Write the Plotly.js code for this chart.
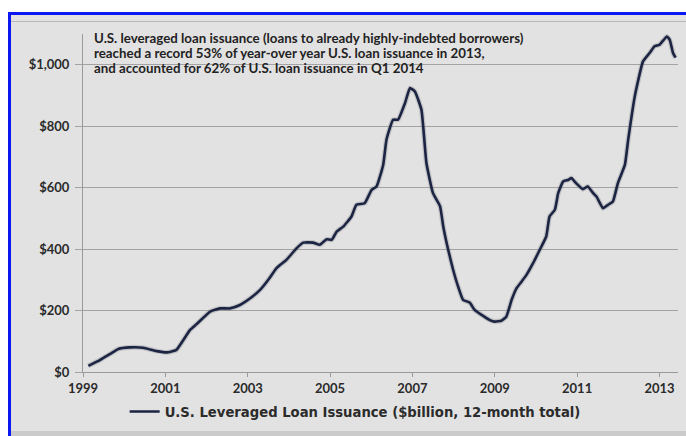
<!DOCTYPE html>
<html>
<head>
<meta charset="utf-8">
<script src="https://cdn.plot.ly/plotly-3.0.1.min.js"></script>
<style>
  html, body { margin:0; padding:0; background:#ffffff; width:686px; height:436px; overflow:hidden; }
  #frame { position:absolute; left:8px; top:12px; width:678px; height:424px; box-sizing:border-box;
           border-left:3px solid #0c18f2; border-top:3px solid #0c18f2; background:#e2e2e2; }
  #topline { position:absolute; left:11px; top:21px; width:675px; height:1px; background:#b8b8b8; }
  #bottomband { position:absolute; left:11px; top:431px; width:675px; height:5px; background:#cbcbcb; }
  #chart { position:absolute; left:11px; top:15px; width:675px; height:421px; }
</style>
</head>
<body>
<div id="frame"></div>
<div id="topline"></div>
<div id="bottomband"></div>
<div id="chart"></div>
<script>
// Decimal year of each reading
const years = [
  1999.13, 1999.41, 1999.66, 1999.86, 2000.14, 2000.46, 2000.79, 2001.07, 2001.27, 2001.60,
  2001.76, 2002.08, 2002.33, 2002.57, 2002.81, 2003.06, 2003.30, 2003.50, 2003.70, 2003.94,
  2004.19, 2004.35, 2004.59, 2004.75, 2004.92, 2005.04, 2005.16, 2005.32, 2005.52, 2005.64,
  2005.84, 2006.01, 2006.13, 2006.29, 2006.37, 2006.53, 2006.65, 2006.82, 2006.94, 2007.06,
  2007.22, 2007.34, 2007.50, 2007.67, 2007.75, 2007.87, 2007.99, 2008.11, 2008.23, 2008.39,
  2008.51, 2008.68, 2008.88, 2009.00, 2009.16, 2009.28, 2009.41, 2009.53, 2009.65, 2009.77,
  2009.93, 2010.09, 2010.25, 2010.33, 2010.46, 2010.54, 2010.66, 2010.78, 2010.86, 2010.98,
  2011.14, 2011.26, 2011.39, 2011.47, 2011.63, 2011.75, 2011.87, 2011.99, 2012.16, 2012.24,
  2012.40, 2012.60, 2012.76, 2012.88, 2013.00, 2013.18, 2013.25, 2013.33, 2013.39
];
// U.S. leveraged loan issuance, $billion, 12-month total
const issuance = [
  20, 39, 59, 75, 80, 79, 68, 64, 72, 137,
  156, 196, 207, 207, 218, 240, 267, 300, 338, 365,
  403, 421, 421, 414, 432, 430, 457, 473, 506, 544,
  549, 593, 604, 674, 756, 821, 821, 875, 924, 913,
  853, 680, 582, 540, 473, 397, 332, 278, 235, 226,
  202, 186, 169, 164, 167, 180, 235, 273, 294, 316,
  354, 397, 441, 506, 528, 582, 620, 625, 631, 614,
  595, 604, 582, 571, 533, 544, 555, 615, 674, 756,
  897, 1011, 1038, 1060, 1065, 1092, 1081, 1038, 1023
];
const xTickVals = [1999, 2001, 2003, 2005, 2007, 2009, 2011, 2013];
const xTickText = ['1999', '2001', '2003', '2005', '2007', '2009', '2011', '2013'];
const yTickVals = [0, 200, 400, 600, 800, 1000];
const yTickText = ['$0', '$200', '$400', '$600', '$800', '$1,000'];
const seriesName = 'U.S. Leveraged Loan Issuance ($billion, 12-month total)';
const noteLines = [
  'U.S. leveraged loan issuance (loans to already highly-indebted borrowers)',
  'reached a record 53% of year-over year U.S. loan issuance in 2013,',
  'and accounted for 62% of U.S. loan issuance in Q1 2014'
];

const FONT = 'Lato, "Open Sans", sans-serif';
const WIDE = '"DejaVu Sans", Verdana, sans-serif';
const plotTopPx = 19, plotH = 421 - 19 - 64;
const notePx = [23, 38, 53];

const shadow = {
  x: years, y: issuance, type: 'scatter', mode: 'lines', showlegend: false,
  line: { color: 'rgba(120,120,130,0.3)', width: 5, shape: 'spline', smoothing: 0.4 },
  hoverinfo: 'skip'
};
const trace = {
  x: years, y: issuance, type: 'scatter', mode: 'lines', name: seriesName,
  line: { color: '#1b2442', width: 2.6, shape: 'spline', smoothing: 0.4 },
  hoverinfo: 'skip'
};

const layout = {
  width: 675, height: 421,
  margin: { l: 72, r: 8, t: 19, b: 64, pad: 0 },
  paper_bgcolor: 'rgba(0,0,0,0)', plot_bgcolor: 'rgba(0,0,0,0)',
  font: { family: FONT, color: '#2b2b2b', size: 13 },
  showlegend: true,
  legend: {
    orientation: 'h', x: 0.07, xanchor: 'left', y: -0.118, yanchor: 'middle',
    bgcolor: 'rgba(0,0,0,0)', font: { family: WIDE, size: 13.2, color: '#2b2b2b', weight: 'bold' },
    itemwidth: 30
  },
  xaxis: {
    range: [1999, 2013.45], tickvals: xTickVals, ticktext: xTickText,
    showgrid: false, zeroline: false, showline: true, linecolor: '#9a9a9a', linewidth: 1,
    ticks: 'outside', ticklen: 4, tickcolor: '#9a9a9a',
    tickfont: { family: FONT, size: 13, color: '#2b2b2b', weight: 'bold' }
  },
  yaxis: {
    range: [0, 1100], tickvals: yTickVals, ticktext: yTickText,
    showgrid: true, gridcolor: '#a3a3a3', gridwidth: 1, zeroline: false,
    showline: true, linecolor: '#9a9a9a', linewidth: 1,
    ticks: 'outside', ticklen: 7, tickcolor: '#a3a3a3', ticklabelstandoff: 3,
    tickfont: { family: FONT, size: 13, color: '#2b2b2b', weight: 'bold' }
  },
  annotations: noteLines.map((t, i) => ({
    text: t, xref: 'paper', yref: 'paper', x: 0.015, xanchor: 'left',
    y: 1 - (notePx[i] - plotTopPx) / plotH, yanchor: 'middle', showarrow: false, align: 'left',
    font: { family: FONT, size: 13.3, color: '#222222', weight: 'bold' }
  }))
};

Plotly.newPlot('chart', [shadow, trace], layout, { staticPlot: true, displayModeBar: false });
</script>
</body>
</html>
